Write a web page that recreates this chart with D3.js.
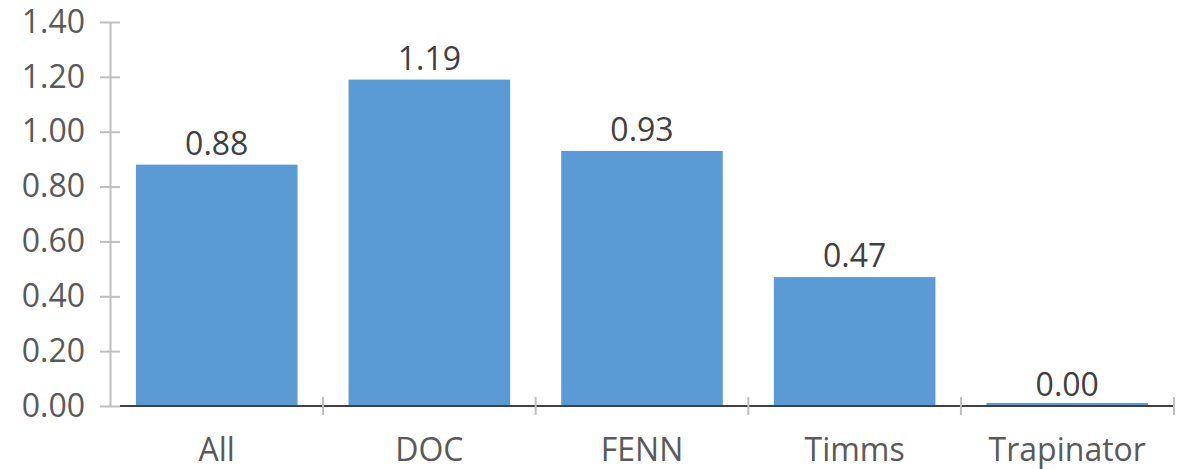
<!DOCTYPE html>
<html><head><meta charset="utf-8">
<script src="https://cdn.jsdelivr.net/npm/d3@7"></script>
<style>body{margin:0;background:#fff}svg{display:block}</style>
</head><body>
<svg id="c" width="1179" height="469"></svg>
<script>
const categories = ["All", "DOC", "FENN", "Timms", "Trapinator"];
const values = [0.88, 1.19, 0.93, 0.47, 0.00];
const yTicks = [0, 0.2, 0.4, 0.6, 0.8, 1.0, 1.2, 1.4];

const svg = d3.select("#c");
const font = "'Open Sans', sans-serif";
const x0 = 110, x1 = 1174, yTop = 22, yBot = 406;
const x = d3.scaleBand().domain(categories).range([x0, x1]).paddingInner(0.24).paddingOuter(0.122);
const y = d3.scaleLinear().domain([0, 1.4]).range([yBot, yTop]);

// y axis
const ya = svg.append("g").attr("transform", `translate(${x0},0)`)
  .call(d3.axisLeft(y).tickValues(yTicks).tickFormat(d3.format(".2f")).tickSize(0).tickPadding(25));
ya.select(".domain").attr("stroke", "#bfbfbf").attr("stroke-width", 2);
ya.selectAll("text").attr("font-family", font).attr("font-size", 32).attr("fill", "#595959");
ya.selectAll(".tick").append("line").attr("x1", -10).attr("x2", 10).attr("stroke", "#bfbfbf").attr("stroke-width", 2);

// bars
svg.append("g").selectAll("rect").data(values).join("rect")
  .attr("x", (d, i) => x(categories[i]))
  .attr("width", x.bandwidth())
  .attr("y", d => Math.min(y(d), yBot - 3))
  .attr("height", d => Math.max(yBot - y(d), 3))
  .attr("fill", "#5b9bd5");

// x axis
const xa = svg.append("g").attr("transform", `translate(0,${yBot})`)
  .call(d3.axisBottom(x).tickSize(0).tickPadding(32));
xa.select(".domain").remove();
svg.append("line").attr("x1", x0 + 10).attr("x2", x1).attr("y1", yBot).attr("y2", yBot)
  .attr("stroke", "#404040").attr("stroke-width", 2);
const bounds = categories.map(c => x(c) - x.step() * x.paddingInner() / 2).slice(1).concat([x1]);
svg.append("g").selectAll("line").data(bounds).join("line")
  .attr("x1", d => d).attr("x2", d => d).attr("y1", yBot - 9).attr("y2", yBot + 9)
  .attr("stroke", "#bfbfbf").attr("stroke-width", 2);
xa.selectAll("text").attr("font-family", font).attr("font-size", 32).attr("fill", "#595959");

// value labels
svg.append("g").selectAll("text").data(values).join("text")
  .attr("x", (d, i) => x(categories[i]) + x.bandwidth() / 2)
  .attr("y", d => y(d) - 10)
  .attr("text-anchor", "middle")
  .attr("font-family", font).attr("font-size", 32).attr("fill", "#404040")
  .text(d => d.toFixed(2));
</script>
</body></html>
